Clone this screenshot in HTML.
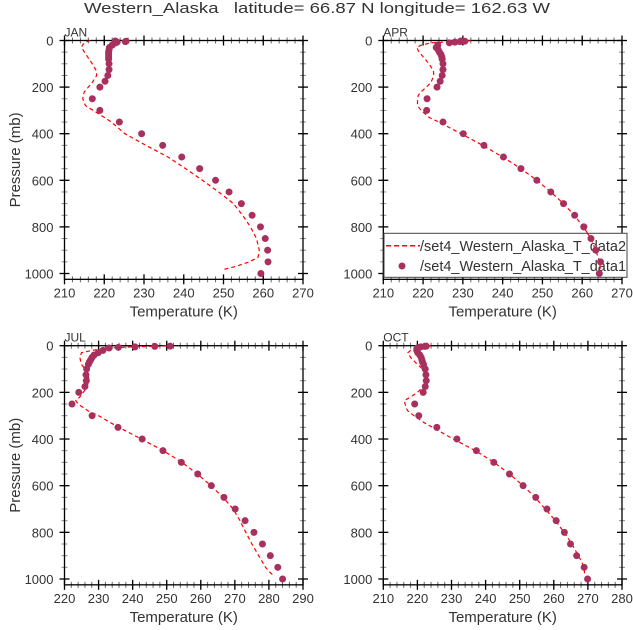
<!DOCTYPE html>
<html><head><meta charset="utf-8"><style>
html,body{margin:0;padding:0;background:#fff;}
svg{display:block;font-family:"Liberation Sans",sans-serif;}
</style></head><body>
<svg id="chart" width="633" height="630" viewBox="0 0 633 630" xmlns="http://www.w3.org/2000/svg">
<text x="84" y="13" font-size="15" fill="#333" style="white-space:pre" xml:space="preserve" textLength="466" lengthAdjust="spacingAndGlyphs">Western_Alaska   latitude= 66.87 N longitude= 162.63 W</text>
</svg>
<script>
const months = ["JAN","APR","JUL","OCT"];
const obsP = [1000,950,900,850,800,750,700,650,600,550,500,450,400,350,300,250,200,175,150,125,100,80,70,60,50,40,30,20,10,7,5,3,2];
const janObs = [259.4,261.2,261.1,260.5,259.3,257.2,254.5,251.4,248,244,239.5,234.7,229.4,223.8,218.9,217,218.9,220.2,220.9,221.2,221.2,221.1,221.1,221.1,221.1,221.2,221.3,222,222.9,223.2,225.3,225.5,222.8];
const aprObs = [264.3,264.6,263.4,262.2,260.4,258.1,255.3,252.1,248.6,244.6,240.2,235.3,230.1,225,220.9,221,223.5,224.3,224.8,225,225,224.8,224.7,224.5,224.1,223.8,223.3,223.7,226.6,228,229.3,230.5,229.5];
const julObs = [284,282.6,280.4,278.1,275.6,273,270.1,266.8,263.1,259.1,254.3,248.9,242.8,235.7,228.1,222.2,224.2,226,226.4,226.3,226.5,227,227.3,227.7,228.1,228.7,229.9,231.3,233.1,235.8,240.7,246.5,251];
const octObs = [269.9,268.9,266.7,264.9,263.1,260.7,258,254.7,251,247,242.4,237.3,231.6,225.7,220.4,219.2,221.7,222.3,222.6,222.5,222.3,221.8,221.5,221.3,221.1,220.7,220.1,219.8,220,220.4,221,222.2,222.6];
const modP = [1,5,10,20,30,50,80,100,130,150,180,200,220,235,250,270,280,300,330,350,400,450,500,550,600,650,700,750,800,850,900,930,950,970,985];
const janMod = [216.5,215.5,215,214.5,214.3,215,216.2,217,218,218.1,217,216,215,214.7,214.6,215,215.3,217.2,220,221.8,225.2,230.5,236,240.5,244.7,248.8,252.5,254.8,256.8,258.3,259,258.7,256.5,253,249.5];
const aprMod = [232,228,222,219.5,218.4,219,220.5,221.5,222.6,222.7,222,220.8,219.5,218.8,218.6,218.6,218.6,219.5,221.5,224,229.5,235,240,244.6,248.6,252.1,255.3,258,260.3,262.2,263.4,264,264.3,264.5,264.5];
const julMod = [250,240,233,228,225,224.5,225,226,227,227.2,226.5,225.5,224.5,223.3,224,226,227,230,233.5,236,242.5,249,254.5,259,263,266.5,269.5,271.5,273.2,275,277,278.2,279,280.2,281.3];
const octMod = [224,222,219,218,217.2,218,220,221.5,222.5,222.6,221.5,220,218,216.2,216.4,216.8,217.2,219,222,224.5,230.5,237,242.5,247,251,254.5,257.5,260.5,263,265.3,267.2,268.3,268.7,269,269];
const xTicksA = [210,220,230,240,250,260,270];
const xTicksJul = [220,230,240,250,260,270,280,290];
const xTicksOct = [210,220,230,240,250,260,270,280];
const yTicks = [0,200,400,600,800,1000];

const NS="http://www.w3.org/2000/svg";
const svg=document.getElementById('chart');
function mk(tag,attrs,parent){const e=document.createElementNS(NS,tag);for(const k in attrs)e.setAttribute(k,attrs[k]);(parent||svg).appendChild(e);return e;}

const panels=[
 {name:"jan",label:"JAN",x0:64.5,x1:303,yTop:40.5,yK:233/1000,xmin:210,xmax:270,ticks:xTicksA,obs:janObs,mod:janMod,ylab:true},
 {name:"apr",label:"APR",x0:383.3,x1:622,yTop:40.5,yK:233/1000,xmin:210,xmax:270,ticks:xTicksA,obs:aprObs,mod:aprMod,ylab:false},
 {name:"jul",label:"JUL",x0:64.5,x1:303,yTop:345.7,yK:233.3/1000,xmin:220,xmax:290,ticks:xTicksJul,obs:julObs,mod:julMod,ylab:true},
 {name:"oct",label:"OCT",x0:383.3,x1:622,yTop:345.7,yK:233.3/1000,xmin:210,xmax:280,ticks:xTicksOct,obs:octObs,mod:octMod,ylab:false}
];

panels.forEach(P=>{
  const g=mk('g',{});
  
  
  const xs=t=>P.x0+(t-P.xmin)/(P.xmax-P.xmin)*(P.x1-P.x0);
  const ys=p=>P.yTop+p*P.yK;
  const yBot=ys(1025);
  for(let t=P.xmin;t<=P.xmax;t+=2){
    const x=xs(t);
    mk('line',{x1:x,x2:x,y1:P.yTop-3,y2:P.yTop+3,stroke:'#666','stroke-width':1},g);
    mk('line',{x1:x,x2:x,y1:yBot-3,y2:yBot+3,stroke:'#666','stroke-width':1},g);
  }
  for(let p=0;p<=1000;p+=50){
    const y=ys(p);
    mk('line',{x1:P.x0-3,x2:P.x0+3,y1:y,y2:y,stroke:'#888','stroke-width':1},g);
    mk('line',{x1:P.x1-3,x2:P.x1+3,y1:y,y2:y,stroke:'#888','stroke-width':1},g);
  }
  P.ticks.forEach(t=>{
    const x=xs(t);
    mk('line',{x1:x,x2:x,y1:P.yTop-5,y2:P.yTop+5,stroke:'#000','stroke-width':1.3},g);
    mk('line',{x1:x,x2:x,y1:yBot-5,y2:yBot+5,stroke:'#000','stroke-width':1.3},g);
    const tx=mk('text',{x:x,y:yBot+18,'font-size':13,fill:'#333','text-anchor':'middle'},g);
    
    
    tx.textContent=t;
  });
  yTicks.forEach(p=>{
    const y=ys(p);
    mk('line',{x1:P.x0-5,x2:P.x0+5,y1:y,y2:y,stroke:'#000','stroke-width':1.3},g);
    mk('line',{x1:P.x1-5,x2:P.x1+5,y1:y,y2:y,stroke:'#000','stroke-width':1.3},g);
    const tx=mk('text',{x:P.x0-11,y:y+5,'font-size':13,fill:'#333','text-anchor':'end'},g);
    
    
    tx.textContent=p;
  });
  const box=mk('rect',{x:P.x0,y:P.yTop,width:P.x1-P.x0,height:yBot-P.yTop,fill:'none',stroke:'#000','stroke-width':1.3},g);
  
  
  const lb=mk('text',{x:P.x0,y:P.yTop-4,'font-size':12,fill:'#333'},g);
  
  
  lb.textContent=P.label;
  const xl=mk('text',{x:(P.x0+P.x1)/2,y:yBot+37,'font-size':15,fill:'#333','text-anchor':'middle'},g);
  
  
  xl.textContent='Temperature (K)';
  if(P.ylab){
    const cy=(P.yTop+yBot)/2;
    const yl=mk('text',{x:15,y:cy,'font-size':15,fill:'#333','text-anchor':'middle',transform:`rotate(-90 15 ${cy})`,dy:5},g);
    
    
    yl.textContent='Pressure (mb)';
  }
  let d='';
  modP.forEach((p,i)=>{d+=(i?'L':'M')+xs(P.mod[i]).toFixed(1)+' '+ys(p).toFixed(1);});
  const ln=mk('path',{d:d,fill:'none',stroke:'#ff0000','stroke-width':1.2,'stroke-dasharray':'4 3'},g);
  
  
  obsP.forEach((p,i)=>{
    const c=mk('circle',{cx:xs(P.obs[i]),cy:ys(p),r:3.5,fill:'#a8305f'},g);
    
    
  });
});

const lg=mk('g',{});


mk('rect',{x:384,y:233.3,width:243,height:44,fill:'#fff',stroke:'#444','stroke-width':1},lg);
const le1=mk('line',{x1:386,x2:420,y1:245.7,y2:245.7,stroke:'#ff0000','stroke-width':1.5,'stroke-dasharray':'5 3'},lg);


const lt1=mk('text',{x:420,y:251,'font-size':15,fill:'#333',textLength:206,lengthAdjust:'spacingAndGlyphs'},lg);


lt1.textContent='/set4_Western_Alaska_T_data2';
const le2=mk('circle',{cx:402,cy:266,r:3.5,fill:'#a8305f'},lg);


const lt2=mk('text',{x:420,y:271,'font-size':15,fill:'#333',textLength:206,lengthAdjust:'spacingAndGlyphs'},lg);


lt2.textContent='/set4_Western_Alaska_T_data1';
(function(){
  const P=panels[1];
  const xs=t=>P.x0+(t-P.xmin)/(P.xmax-P.xmin)*(P.x1-P.x0);
  const ys=p=>P.yTop+p*P.yK;
  let d='';
  modP.forEach((p,i)=>{ if(p>=800){d+=(d?'L':'M')+xs(P.mod[i]).toFixed(1)+' '+ys(p).toFixed(1);} });
  const ln=mk('path',{d:d,fill:'none',stroke:'#ff0000','stroke-width':1.2,'stroke-dasharray':'4 3'});
  
  
  obsP.forEach((p,i)=>{ if(p>=800){
    const c=mk('circle',{cx:xs(P.obs[i]),cy:ys(p),r:3.5,fill:'#a8305f'});
    
    
  }});
})();
</script>
</body></html>
